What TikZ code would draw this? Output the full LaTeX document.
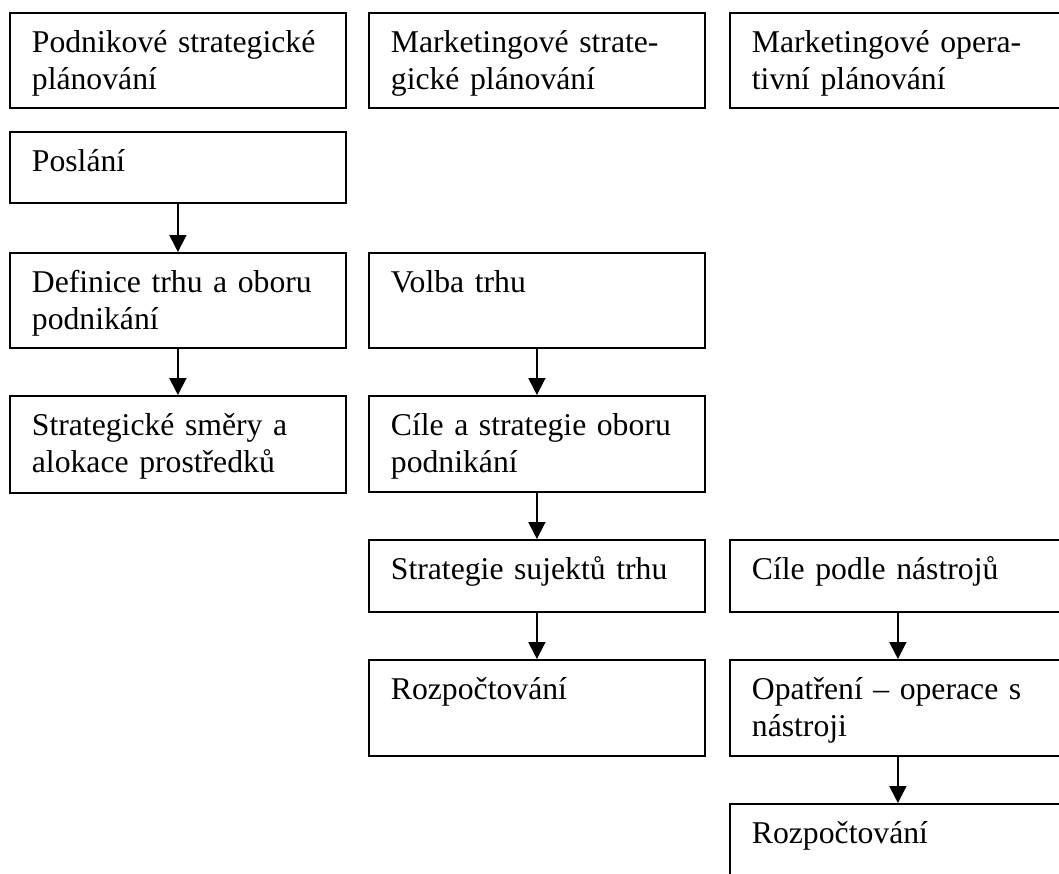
\documentclass[tikz,border=0pt]{standalone}
\usepackage{fontspec}
\setmainfont{Liberation Serif}
\usetikzlibrary{arrows.meta}
% a full, space-stretched (justified) line inside a box
\newcommand\jline[1]{\makebox[\linewidth][s]{#1}}
\tikzset{
  stage/.style={draw, line width=1.8pt, anchor=north west,
    inner xsep=22pt, inner ysep=0pt, text width=292pt, align=left,
    text height=40pt, text depth=#1},
  stage/.default=55pt,
  flow/.style={line width=1.8pt, -{Triangle[width=17pt,length=17pt]}},
}
\begin{document}
\begin{tikzpicture}[x=1pt, y=-1pt, font=\fontsize{31.7}{36.5}\selectfont]
\useasboundingbox (0,0) rectangle (1059,873);
\clip (0,0) rectangle (1059,873);

% column headings
\node[stage] (h1) at (9,12) {\jline{Podnikové strategické}\\plánování};
\node[stage] (h2) at (368,12) {\jline{Marketingové strate-}\\gické plánování};
\node[stage] (h3) at (729,12) {\jline{Marketingové opera-}\\tivní plánování};

% corporate strategic planning
\node[stage=31pt] (posl) at (9,131) {Poslání};
\node[stage] (def) at (9,252) {\jline{Definice trhu a oboru}\\podnikání};
\node[stage=57pt] (smer) at (9,395) {\jline{Strategické směry a}\\alokace prostředků};

% marketing strategic planning
\node[stage] (volba) at (368,252) {Volba trhu};
\node[stage=56pt] (cile) at (368,395) {\jline{Cíle a strategie oboru}\\podnikání};
\node[stage=32pt] (subj) at (368,539) {Strategie sujektů trhu};
\node[stage=56pt] (rozp1) at (368,659) {Rozpočtování};

% marketing operational planning
\node[stage=32pt] (nastr) at (729,539) {Cíle podle nástrojů};
\node[stage=56pt] (opat) at (729,659) {\jline{Opatření – operace s}\\nástroji};
\node[stage=120pt] (rozp2) at (729,803) {Rozpočtování};

% flow between stages
\draw[flow] (posl.south) -- (def.north);
\draw[flow] (def.south) -- (smer.north);
\draw[flow] (volba.south) -- (cile.north);
\draw[flow] (cile.south) -- (subj.north);
\draw[flow] (subj.south) -- (rozp1.north);
\draw[flow] (nastr.south) -- (opat.north);
\draw[flow] (opat.south) -- (rozp2.north);
\end{tikzpicture}
\end{document}
